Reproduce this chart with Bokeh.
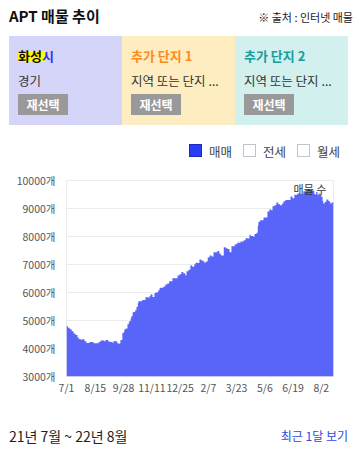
import pandas as pd
from bokeh.plotting import figure
from bokeh.models import Div, Range1d, FixedTicker, PrintfTickFormatter, Label
from bokeh.layouts import column
from bokeh.embed import file_html
from bokeh.resources import INLINE

# ---------------- data ----------------
start_date = "2021-07-01"
end_date = "2022-08-21"

# day offsets (from start_date) at which the listing count changes, and the count from that day on
day_offsets = [0, 2, 5, 8, 11, 14, 17, 19, 22, 24, 28, 31, 36, 42, 50, 53, 59, 61, 65, 67,
               72, 73, 79, 81, 83, 84, 87, 89, 90, 92, 95, 97, 98, 100, 101, 103, 104, 107, 109, 111,
               112, 118, 123, 128, 129, 131, 134, 137, 140, 143, 145, 146, 151, 154, 157, 160, 165, 173, 176, 179,
               182, 185, 187, 190, 193, 196, 199, 201, 204, 207, 210, 213, 215, 217, 220, 223, 226, 229, 235, 238,
               240, 241, 245, 248, 251, 254, 255, 257, 262, 265, 268, 269, 271, 276, 279, 283, 285, 287, 291, 293,
               296, 298, 299, 301, 302, 307, 313, 316, 319, 321, 324, 327, 330, 333, 336, 338, 341, 349, 352, 355,
               360, 364, 369, 374, 383, 386, 389, 391, 393, 394, 397, 399, 400, 402, 403, 405, 408, 410, 411, 413]
listings = [4800, 4740, 4690, 4620, 4540, 4480, 4390, 4340, 4310, 4330, 4260, 4200, 4230, 4190, 4230, 4290, 4260, 4300, 4250, 4230,
            4190, 4260, 4190, 4170, 4190, 4300, 4550, 4580, 4680, 4710, 4870, 4940, 4980, 5080, 5150, 5290, 5300, 5370, 5480, 5620,
            5690, 5730, 5830, 5800, 5870, 5940, 5840, 5980, 6010, 6080, 6150, 6170, 6210, 6290, 6320, 6400, 6510, 6610, 6650, 6730,
            6690, 6620, 6760, 6810, 6960, 6920, 7000, 7060, 7050, 7180, 7140, 7110, 7060, 7110, 7250, 7320, 7290, 7440, 7480, 7390,
            7360, 7320, 7620, 7580, 7550, 7450, 7440, 7650, 7710, 7760, 7820, 7770, 7820, 7870, 7940, 7930, 8060, 8020, 7990, 8090,
            8130, 8380, 8520, 8560, 8580, 8680, 8890, 8960, 8940, 9080, 9120, 9210, 9150, 9120, 9180, 9260, 9300, 9430, 9370, 9490,
            9540, 9510, 9620, 9650, 9630, 9510, 9590, 9490, 9560, 9510, 9420, 9270, 9180, 9210, 9240, 9320, 9270, 9230, 9180, 9210]

tick_dates = ["2021-07-01", "2021-08-15", "2021-09-28", "2021-11-11", "2021-12-25",
              "2022-02-07", "2022-03-23", "2022-05-06", "2022-06-19", "2022-08-02"]
tick_labels = ["7/1", "8/15", "9/28", "11/11", "12/25", "2/7", "3/23", "5/6", "6/19", "8/2"]
y_ticks = [3000, 4000, 5000, 6000, 7000, 8000, 9000, 10000]

FONT = "Noto Sans CJK KR"

t0 = pd.Timestamp(start_date)
end_off = (pd.Timestamp(end_date) - t0).days
tick_offsets = [(pd.Timestamp(d) - t0).days for d in tick_dates]

xs = list(day_offsets) + [end_off]
ys = list(listings) + [listings[-1]]

# ---------------- chart ----------------
p = figure(width=357, height=230, output_backend="svg", toolbar_location=None,
           x_range=Range1d(0, end_off), y_range=Range1d(y_ticks[0], y_ticks[-1]),
           min_border_left=66, min_border_right=24, min_border_top=10, min_border_bottom=24,
           margin=(0, 0, 0, 0))
p.outline_line_color = "#ececec"
p.background_fill_color = "white"
p.border_fill_color = "white"

p.varea_step(x=xs, y1=[y_ticks[0]] * len(xs), y2=ys, step_mode="after",
             fill_color="#5865F8", fill_alpha=1.0)

p.xgrid.grid_line_color = None
p.ygrid.grid_line_color = "#ececec"
p.ygrid.ticker = FixedTicker(ticks=y_ticks)

p.yaxis.ticker = FixedTicker(ticks=y_ticks)
p.yaxis.formatter = PrintfTickFormatter(format="%d개")
p.xaxis.ticker = FixedTicker(ticks=tick_offsets)
p.xaxis.major_label_overrides = {o: l for o, l in zip(tick_offsets, tick_labels)}

for ax in (p.xaxis[0], p.yaxis[0]):
    ax.axis_line_color = None
    ax.major_tick_line_color = None
    ax.minor_tick_line_color = None
    ax.major_tick_out = 0
    ax.major_tick_in = 0
    ax.major_label_text_font = FONT
    ax.major_label_text_font_size = "10.5px"
    ax.major_label_text_color = "#555555"
p.yaxis.major_label_standoff = 11
p.xaxis.major_label_standoff = 3

p.add_layout(Label(x=405, y=9690, text="매물 수", text_align="right", text_baseline="middle",
                   text_font=FONT, text_font_size="11px", text_color="#333333"))

# ---------------- header / footer ----------------
def box(left, bg, heading_html, sub):
    return f"""
  <div style="position:absolute;left:{left}px;top:36px;width:113px;height:89px;background:{bg};">
    {heading_html}
    <div style="position:absolute;left:9px;top:36px;font-size:12.5px;line-height:18px;color:#333;white-space:nowrap;">{sub}</div>
    <div style="position:absolute;left:9px;top:58px;width:50px;height:21px;background:#999999;color:#fff;
                font-size:12px;font-weight:bold;line-height:21px;text-align:center;">재선택</div>
  </div>"""

h1 = ('<div style="position:absolute;left:9px;top:15px;width:27px;height:10.5px;background:#FFFF00;"></div>'
      '<div style="position:absolute;left:9px;top:11px;font-size:13px;font-weight:bold;line-height:18px;white-space:nowrap;">'
      '<span style="color:#111;">화성</span><span style="color:#2436F5;">시</span></div>')
h2 = ('<div style="position:absolute;left:9px;top:11px;font-size:13px;font-weight:bold;line-height:18px;'
      'color:#FF8A1F;white-space:nowrap;">추가 단지 1</div>')
h3 = ('<div style="position:absolute;left:9px;top:11px;font-size:13px;font-weight:bold;line-height:18px;'
      'color:#1B9C9C;white-space:nowrap;">추가 단지 2</div>')

def legend_item(left, label, checked):
    if checked:
        sq = "background:#2B3DF2;border:1.5px solid #1A28C8;"
    else:
        sq = "background:#ffffff;border:1.5px solid #C3C3CB;"
    return (f'<div style="position:absolute;left:{left}px;top:144px;width:13px;height:13px;{sq}"></div>'
            f'<div style="position:absolute;left:{left + 20}px;top:143px;font-size:12.5px;line-height:18px;color:#444;">{label}</div>')

header_html = f"""
<div style="position:relative;width:357px;height:170px;font-family:'{FONT}';background:#fff;">
  <div style="position:absolute;left:9px;top:6px;font-size:15px;font-weight:bold;line-height:20px;color:#111;white-space:nowrap;">APT 매물 추이</div>
  <div style="position:absolute;right:4px;top:10px;font-size:11px;line-height:14px;color:#222;white-space:nowrap;">※ 출처 : 인터넷 매물</div>
  {box(9, "#D4D5F9", h1, "경기")}
  {box(122, "#FEEDC1", h2, "지역 또는 단지 ...")}
  {box(235, "#D1F0EE", h3, "지역 또는 단지 ...")}
  {legend_item(189, "매매", True)}
  {legend_item(243, "전세", False)}
  {legend_item(297, "월세", False)}
</div>"""

footer_html = f"""
<div style="position:relative;width:357px;height:50px;font-family:'{FONT}';background:#fff;">
  <div style="position:absolute;left:9px;top:26px;font-size:14px;line-height:20px;color:#222;white-space:nowrap;">21년 7월 ~ 22년 8월</div>
  <div style="position:absolute;right:9px;top:28px;font-size:12px;line-height:16px;color:#2A4BE0;white-space:nowrap;">최근 1달 보기</div>
</div>"""

header = Div(text=header_html, width=357, height=170, margin=(0, 0, 0, 0))
footer = Div(text=footer_html, width=357, height=50, margin=(0, 0, 0, 0))

layout = column(header, p, footer, spacing=0, margin=(0, 0, 0, 0))

open("out.html", "w").write(file_html(layout, INLINE))
